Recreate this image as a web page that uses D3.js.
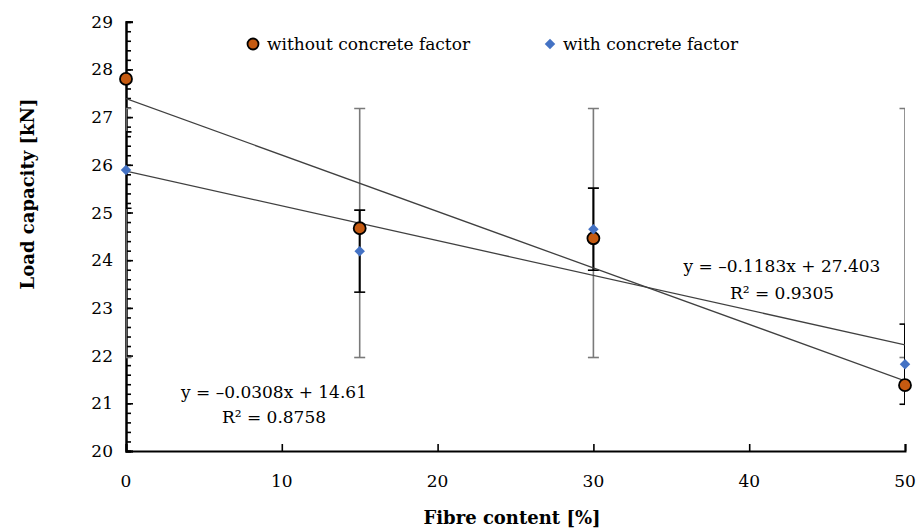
<!DOCTYPE html>
<html>
<head>
<meta charset="utf-8">
<script src="https://cdn.jsdelivr.net/npm/d3@7"></script>
<style>
  body { margin: 0; background: #fff; }
  text { font-family: "DejaVu Serif", serif; fill: #000; }
</style>
</head>
<body>
<div id="graph"></div>
<script>
const width = 921,
    height = 531,
    plotLeft = 126, // y axis position
    plotRight = 905,
    plotTop = 21.7,
    plotBottom = 451;

// data
const fibre = [0, 15, 30, 50];
const withoutFactor = [27.8, 24.67, 24.46, 21.38];
const withFactor = [25.89, 24.19, 24.65, 21.82];
const withFactorErr = [0.8, 0.86, 0.86, 0.84];
const greyLow = [21.96, 21.96, 21.96, 21.96];
const greyHigh = [27.18, 27.18, 27.18, 27.18];
const xTicks = [0, 10, 20, 30, 40, 50];
const yTicks = [20, 21, 22, 23, 24, 25, 26, 27, 28, 29];
const eq1 = ["y = \u20130.0308x + 14.61", "R\u00b2 = 0.8758"];
const eq2 = ["y = \u20130.1183x + 27.403", "R\u00b2 = 0.9305"];

const x = d3.scaleLinear().domain([0, 50]).range([plotLeft, plotRight]);
const y = d3.scaleLinear().domain([20, 29]).range([plotBottom, plotTop]);

const svg = d3.select("#graph")
    .append("svg")
    .attr("width", width)
    .attr("height", height);

svg.append("defs").append("clipPath").attr("id", "plot")
  .append("rect")
    .attr("x", plotLeft).attr("y", plotTop)
    .attr("width", plotRight - plotLeft).attr("height", plotBottom - plotTop);

// least squares trend line
function fit(xs, ys) {
  const mx = d3.mean(xs), my = d3.mean(ys);
  let sxy = 0, sxx = 0;
  xs.forEach((v, i) => { sxy += (v - mx) * (ys[i] - my); sxx += (v - mx) * (v - mx); });
  const b = sxy / sxx;
  return [b, my - b * mx];
}

// axes
const yAxis = d3.axisRight(y).tickValues(yTicks).tickSize(7).tickFormat("");
const yMinor = d3.axisRight(y).tickValues(d3.range(20, 29.01, 0.2)).tickSize(5).tickFormat("");
const xAxis = d3.axisTop(x).tickValues(xTicks).tickSize(7).tickFormat("");

svg.append("g").attr("transform", "translate(" + plotLeft + ",0)").call(yMinor);
svg.append("g").attr("transform", "translate(" + plotLeft + ",0)").call(yAxis);
svg.append("g").attr("transform", "translate(0," + plotBottom + ")").call(xAxis);
svg.selectAll(".domain").attr("stroke", "#000").attr("stroke-width", 2);
svg.selectAll(".tick line").attr("stroke", "#000").attr("stroke-width", 1.6);

svg.selectAll(".ylab").data(yTicks).enter().append("text")
    .attr("x", 113).attr("y", d => y(d) + 6)
    .attr("text-anchor", "end").attr("font-size", 17)
    .text(d => d);
svg.selectAll(".xlab").data(xTicks).enter().append("text")
    .attr("x", d => x(d)).attr("y", 487)
    .attr("text-anchor", "middle").attr("font-size", 17)
    .text(d => d);

svg.append("text")
    .attr("transform", "translate(34,194) rotate(-90)")
    .attr("text-anchor", "middle").attr("font-size", 18).attr("font-weight", "bold")
    .text("Load capacity [kN]");
svg.append("text")
    .attr("x", 512).attr("y", 524)
    .attr("text-anchor", "middle").attr("font-size", 18).attr("font-weight", "bold")
    .text("Fibre content [%]");

const plot = svg.append("g").attr("clip-path", "url(#plot)");

// grey error bars
const cap = 5.5;
fibre.forEach((f, i) => {
  const g = plot.append("g").attr("stroke", "#7a7a7a").attr("stroke-width", 1.6);
  g.append("line").attr("x1", x(f)).attr("x2", x(f)).attr("y1", y(greyLow[i])).attr("y2", y(greyHigh[i]));
  g.append("line").attr("x1", x(f) - cap).attr("x2", x(f) + cap).attr("y1", y(greyLow[i])).attr("y2", y(greyLow[i]));
  g.append("line").attr("x1", x(f) - cap).attr("x2", x(f) + cap).attr("y1", y(greyHigh[i])).attr("y2", y(greyHigh[i]));
});

// black error bars (with concrete factor)
fibre.forEach((f, i) => {
  const lo = withFactor[i] - withFactorErr[i], hi = withFactor[i] + withFactorErr[i];
  const g = plot.append("g").attr("stroke", "#000").attr("stroke-width", 2);
  g.append("line").attr("x1", x(f)).attr("x2", x(f)).attr("y1", y(lo)).attr("y2", y(hi));
  g.append("line").attr("x1", x(f) - cap).attr("x2", x(f) + cap).attr("y1", y(lo)).attr("y2", y(lo)).attr("stroke-width", 1.6);
  g.append("line").attr("x1", x(f) - cap).attr("x2", x(f) + cap).attr("y1", y(hi)).attr("y2", y(hi)).attr("stroke-width", 1.6);
});

// trend lines
[withoutFactor, withFactor].forEach(vals => {
  const [b, a] = fit(fibre, vals);
  plot.append("line")
    .attr("x1", x(0)).attr("y1", y(a))
    .attr("x2", x(50)).attr("y2", y(a + b * 50))
    .attr("stroke", "#404040").attr("stroke-width", 1.3);
});

// markers
const diamond = d3.symbol().type(d3.symbolDiamond2).size(70);
const marks = svg.append("g");
fibre.forEach((f, i) => {
  marks.append("circle")
    .attr("cx", x(f)).attr("cy", y(withoutFactor[i])).attr("r", 6)
    .attr("fill", "#c55a11").attr("stroke", "#000").attr("stroke-width", 1.8);
  marks.append("path")
    .attr("d", diamond)
    .attr("transform", "translate(" + x(f) + "," + y(withFactor[i]) + ")")
    .attr("fill", "#4472c4");
});

// legend
svg.append("circle").attr("cx", 253).attr("cy", 44).attr("r", 5.5)
    .attr("fill", "#c55a11").attr("stroke", "#000").attr("stroke-width", 1.8);
svg.append("text").attr("x", 267).attr("y", 50).attr("font-size", 17).text("without concrete factor");
svg.append("path").attr("d", diamond).attr("transform", "translate(550,44)").attr("fill", "#4472c4");
svg.append("text").attr("x", 563).attr("y", 50).attr("font-size", 17).text("with concrete factor");

// equations
svg.selectAll(".eq1").data(eq1).enter().append("text")
    .attr("x", 274).attr("y", (d, i) => 398 + i * 25)
    .attr("text-anchor", "middle").attr("font-size", 17).text(d => d);
svg.selectAll(".eq2").data(eq2).enter().append("text")
    .attr("x", 782).attr("y", (d, i) => 272 + i * 27)
    .attr("text-anchor", "middle").attr("font-size", 17).text(d => d);
</script>
</body>
</html>
